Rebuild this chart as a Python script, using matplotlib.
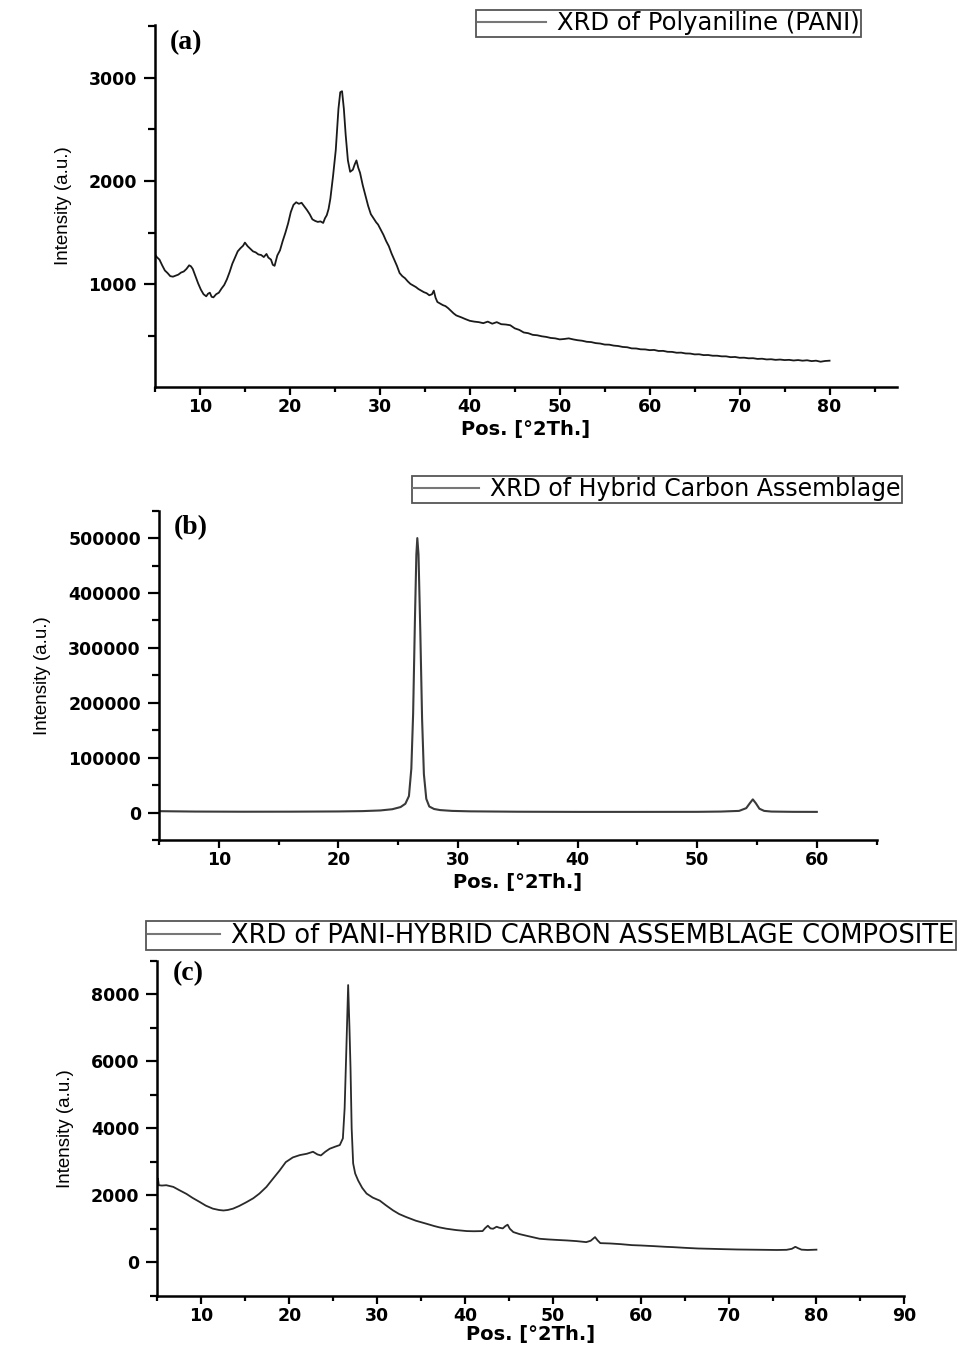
import matplotlib
matplotlib.use("Agg")
import matplotlib.pyplot as plt
from matplotlib.ticker import MultipleLocator
from matplotlib.font_manager import FontProperties

# (a) Polyaniline
pani_x = [5.0, 5.2, 5.5, 5.8, 6.1, 6.4, 6.7, 7.0, 7.3, 7.6, 7.9, 8.2, 8.5, 8.8, 9.0, 9.2, 9.5, 9.8,
          10.1, 10.4, 10.7, 10.9, 11.1, 11.3, 11.5, 11.8, 12.1, 12.4, 12.7, 13.0, 13.3, 13.6, 13.9,
          14.2, 14.5, 14.8, 15.0, 15.3, 15.6, 15.9, 16.2, 16.5, 16.8, 17.1, 17.4, 17.6, 17.9, 18.1,
          18.3, 18.6, 18.9, 19.2, 19.5, 19.8, 20.1, 20.4, 20.7, 21.0, 21.3, 21.6, 21.9, 22.2, 22.5,
          22.8, 23.1, 23.4, 23.7, 23.9, 24.1, 24.3, 24.5, 24.8, 25.1, 25.4, 25.6, 25.8, 26.0, 26.2,
          26.45, 26.7, 27.0, 27.2, 27.4, 27.6, 27.8, 28.1, 28.4, 28.7, 29.0, 29.3, 29.6, 29.8, 30.1,
          30.4, 30.7, 31.0, 31.3, 31.6, 31.9, 32.2, 32.5, 32.8, 33.1, 33.4, 33.7, 34.0, 34.3, 34.6,
          34.9, 35.2, 35.5, 35.8, 36.0, 36.2, 36.4, 36.7, 37.0, 37.3, 37.6, 37.9, 38.2, 38.5, 38.8,
          39.1, 39.5, 40.0, 40.5, 41.0, 41.5, 42.0, 42.5, 43.0, 43.5, 44.0, 44.5, 45.0, 45.5, 46.0,
          46.5, 47.0, 47.5, 48.0, 48.5, 49.0, 49.5, 50.0, 50.5, 51.0, 51.5, 52.0, 52.5, 53.0, 53.5,
          54.0, 54.5, 55.0, 55.5, 56.0, 56.5, 57.0, 57.5, 58.0, 58.5, 59.0, 59.5, 60.0, 60.5, 61.0,
          61.5, 62.0, 62.5, 63.0, 63.5, 64.0, 64.5, 65.0, 65.5, 66.0, 66.5, 67.0, 67.5, 68.0, 68.5,
          69.0, 69.5, 70.0, 70.5, 71.0, 71.5, 72.0, 72.5, 73.0, 73.5, 74.0, 74.5, 75.0, 75.5, 76.0,
          76.5, 77.0, 77.5, 78.0, 78.5, 79.0, 79.5, 80.0]
pani_y = [1290, 1265, 1240, 1185, 1135, 1110, 1080, 1075, 1085, 1095, 1115, 1125, 1150, 1185, 1175, 1150, 1080, 1010,
          950, 905, 885, 910, 920, 880, 875, 905, 920, 960, 995, 1050, 1120, 1200, 1260,
          1320, 1350, 1375, 1405, 1370, 1345, 1320, 1310, 1290, 1285, 1265, 1295, 1260, 1240, 1190,
          1180, 1280, 1330, 1420, 1500, 1590, 1700, 1770, 1795, 1780, 1790, 1755, 1720, 1680, 1630,
          1615, 1605, 1610, 1595, 1640, 1670, 1730, 1830, 2050, 2300, 2700, 2860, 2870, 2700, 2450,
          2200, 2090, 2110, 2160, 2200, 2130, 2080, 1960, 1860, 1760, 1680, 1640, 1600, 1580, 1530,
          1480, 1420, 1370, 1300, 1240, 1180, 1110, 1080, 1060, 1030, 1005, 990, 975, 955, 940,
          925, 915, 895, 905, 940, 870, 830, 815, 800, 790, 770, 745, 720, 700, 690,
          680, 665, 648, 640, 635, 625, 640, 620, 635, 615, 612, 605, 575, 560, 535,
          528, 512, 508, 498, 492, 482, 478, 468, 472, 478, 468, 460, 455, 445, 442,
          432, 428, 418, 417, 408, 404, 395, 392, 381, 380, 372, 371, 364, 366, 356,
          357, 348, 347, 339, 340, 332, 331, 323, 324, 316, 317, 310, 310, 304, 304,
          296, 298, 290, 291, 285, 286, 279, 281, 274, 276, 270, 273, 268, 270, 264,
          268, 262, 266, 258, 262, 252, 259, 262]

# (b) Hybrid carbon assemblage
hca_x = [5, 8, 12, 16, 20, 22, 23.5, 24.5, 25.2, 25.6, 25.9, 26.1, 26.25, 26.4, 26.52, 26.6, 26.7,
         26.85, 27.0, 27.15, 27.35, 27.6, 28.0, 28.5, 29.5, 31, 35, 40, 45, 50, 52, 53.5, 54.1,
         54.4, 54.65, 54.9, 55.2, 55.6, 56.2, 58, 60]
hca_y = [2500, 1800, 1500, 1600, 2000, 2600, 3800, 6000, 10000, 16000, 30000, 80000, 180000, 350000,
         470000, 500000, 470000, 330000, 170000, 70000, 25000, 11000, 6500, 4500, 3000, 2200, 1500,
         1200, 1200, 1300, 1800, 3000, 8000, 17000, 24000, 17000, 7000, 3000, 1800, 1300, 1200]

# (c) PANI-hybrid carbon assemblage composite
comp_x = [5.0, 5.05, 5.15, 5.5, 6.0, 6.8, 7.5, 8.3, 9.0, 9.8, 10.5, 11.3, 12.0, 12.5, 13.0, 13.6,
          14.3, 15.1, 15.9, 16.6, 17.4, 18.1, 18.9, 19.6, 20.4, 21.2, 22.0, 22.7, 23.2, 23.6, 24.1,
          24.6, 25.2, 25.75, 26.1, 26.3, 26.5, 26.7, 26.85, 26.97, 27.1, 27.27, 27.5, 27.84, 28.3,
          28.8, 29.5, 30.3, 31.0, 31.8, 32.5, 33.3, 34.4, 35.6, 36.5, 37.1, 37.9, 39.0, 40.2, 41.0,
          42.0, 42.3, 42.6, 42.9, 43.2, 43.6, 43.9, 44.3, 44.6, 44.85, 45.1, 45.5, 46.2, 47.0, 48.0,
          48.5, 49.5, 50.5, 51.6, 52.7, 53.8, 54.3, 54.8, 55.1, 55.4, 56.5, 57.7, 59.0, 60.0, 61.5,
          62.8, 63.7, 65.0, 66.5, 68.0, 69.4, 71.0, 72.5, 74.0, 75.5, 76.6, 77.2, 77.6, 77.9, 78.3,
          79.0, 79.5, 80.0]
comp_y = [2300, 2500, 2300, 2290, 2300, 2250, 2150, 2040, 1920, 1800, 1690, 1600, 1560, 1545, 1560, 1600,
          1680, 1790, 1910, 2050, 2250, 2480, 2740, 2990, 3130, 3200, 3240, 3300, 3220, 3190, 3300,
          3390, 3450, 3500, 3700, 4600, 6400, 8280, 7000, 5800, 4000, 2950, 2650, 2440, 2220,
          2050, 1930, 1840, 1700, 1550, 1440, 1350, 1240, 1150, 1080, 1040, 1000, 960, 930, 925,
          930, 1020, 1090, 1010, 1000, 1060, 1030, 1010, 1080, 1120, 1000, 900, 840, 790, 730,
          700, 680, 665, 650, 630, 600, 640, 750, 650, 570, 560, 540, 510, 500, 480,
          460, 450, 430, 410, 400, 390, 380, 375, 370, 365, 370, 400, 460, 420, 375,
          365, 370, 375]

tick_font = FontProperties(family="DejaVu Sans", weight="bold", size=12.5)


def style_axis(ax, xlim, ylim, xmajor, xminor, yticks, yminor, xlabelpad=3):
    ax.spines["top"].set_visible(False)
    ax.spines["right"].set_visible(False)
    ax.spines["left"].set_linewidth(1.8)
    ax.spines["bottom"].set_linewidth(1.8)
    ax.set_xlim(xlim)
    ax.set_ylim(ylim)
    ax.xaxis.set_major_locator(MultipleLocator(xmajor))
    ax.xaxis.set_minor_locator(MultipleLocator(xminor))
    ax.set_yticks(yticks)
    ax.yaxis.set_minor_locator(MultipleLocator(yminor))
    ax.tick_params(axis="y", which="major", direction="out", length=8, width=1.6, pad=5)
    ax.tick_params(axis="y", which="minor", direction="out", length=5, width=1.6)
    ax.tick_params(axis="x", which="major", direction="out", length=6, width=1.6, pad=2)
    ax.tick_params(axis="x", which="minor", direction="out", length=3.5, width=1.6)
    for lab in ax.get_xticklabels() + ax.get_yticklabels():
        lab.set_fontproperties(tick_font)
    ax.set_xlabel("Pos. [°2Th.]", family="DejaVu Sans", weight="bold", fontsize=14,
                  labelpad=xlabelpad)
    ax.set_ylabel("Intensity (a.u.)", family="Liberation Sans", fontsize=13.5, labelpad=12)


def add_legend(ax, fig, right_px, top_px, size):
    leg = ax.legend(loc="upper right", bbox_to_anchor=(right_px / 971, 1 - top_px / 1347),
                    bbox_transform=fig.transFigure, borderaxespad=0, fancybox=False,
                    framealpha=1, edgecolor="#555555", handlelength=2.8, handletextpad=0.45,
                    borderpad=0.06, prop={"family": "DejaVu Sans", "size": size})
    leg.get_frame().set_linewidth(1.3)
    for line in leg.get_lines():
        line.set_color("#777777")
        line.set_linewidth(1.5)


fig = plt.figure(figsize=(9.71, 13.47), dpi=100)

# panel (a)
ax1 = fig.add_axes([0.1596, 0.7129, 0.7642, 0.2685])
ax1.plot(pani_x, pani_y, color="#1a1a1a", linewidth=1.3, label="XRD of Polyaniline (PANI)")
style_axis(ax1, (5, 87.5), (10, 3510), 10, 5, [1000, 2000, 3000], 500)
add_legend(ax1, fig, 861, 10, 17.5)
ax1.text(0.02, 0.985, "(a)", transform=ax1.transAxes, family="Liberation Serif",
         weight="bold", fontsize=20, va="top", ha="left")

# panel (b)
ax2 = fig.add_axes([0.1637, 0.3764, 0.7391, 0.2445])
ax2.plot(hca_x, hca_y, color="#3a3a3a", linewidth=1.5, label="XRD of Hybrid Carbon Assemblage")
style_axis(ax2, (5, 65), (-50000, 550000), 10, 5,
           [0, 100000, 200000, 300000, 400000, 500000], 50000)
add_legend(ax2, fig, 902, 476, 17)
ax2.text(0.02, 0.985, "(b)", transform=ax2.transAxes, family="Liberation Serif",
         weight="bold", fontsize=20, va="top", ha="left")

# panel (c)
ax3 = fig.add_axes([0.1622, 0.0381, 0.7691, 0.2485])
ax3.plot(comp_x, comp_y, color="#2a2a2a", linewidth=1.3,
         label="XRD of PANI-HYBRID CARBON ASSEMBLAGE COMPOSITE")
style_axis(ax3, (5, 90), (-1000, 9000), 10, 5, [0, 2000, 4000, 6000, 8000], 1000,
           xlabelpad=0)
add_legend(ax3, fig, 956, 921, 18.5)
ax3.text(0.02, 1.0, "(c)", transform=ax3.transAxes, family="Liberation Serif",
         weight="bold", fontsize=20, va="top", ha="left")

fig.savefig("out.png", dpi=100)
